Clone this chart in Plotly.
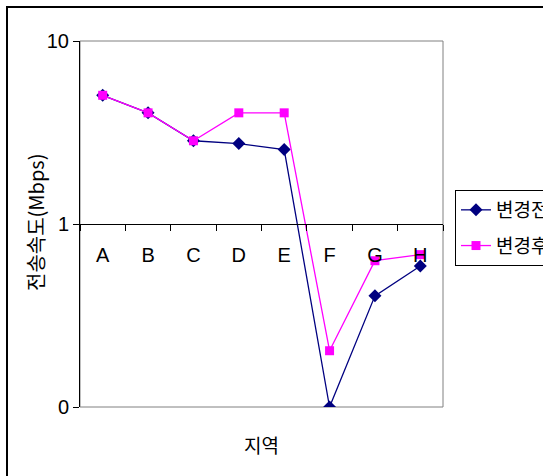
import plotly.graph_objects as go

categories = ["A", "B", "C", "D", "E", "F", "G", "H"]
before = [5.05, 4.05, 2.85, 2.75, 2.55, 0.1, 0.405, 0.59]
after = [5.05, 4.05, 2.85, 4.05, 4.05, 0.203, 0.63, 0.68]
y_tickvals = [0.1, 1, 10]
y_ticktext = ["0", "1", "10"]

FONT = "Liberation Sans, Arial, Noto Sans CJK KR, sans-serif"
KFONT = "Noto Sans CJK KR, Liberation Sans, sans-serif"

fig = go.Figure()
fig.add_trace(go.Scatter(
    x=categories, y=before, name="변경전", mode="lines+markers",
    line=dict(color="#000080", width=1.3),
    marker=dict(symbol="diamond", size=10, color="#000080"),
    legendgroup="a",
))
fig.add_trace(go.Scatter(
    x=categories, y=after, name="변경후", mode="lines+markers",
    line=dict(color="#FF00FF", width=1.3),
    marker=dict(symbol="square", size=9, color="#FF00FF"),
    legendgroup="b",
))

W, H = 543, 476
L, R, T, B = 80, 100, 41, 69
pw, ph = W - L - R, H - T - B

fig.update_layout(
    width=W, height=H,
    margin=dict(l=L, r=R, t=T, b=B, autoexpand=False),
    paper_bgcolor="white", plot_bgcolor="white",
    font=dict(family=FONT, size=20, color="black"),
    showlegend=True,
    legend=dict(
        x=(455 - L) / pw, y=(H - B - 190) / ph, xanchor="left", yanchor="top",
        bordercolor="black", borderwidth=1, bgcolor="white",
        font=dict(family=KFONT, size=19, color="black"),
        tracegroupgap=8, traceorder="grouped",
    ),
    xaxis=dict(
        type="category", anchor="free", position=0.5,
        showline=True, linecolor="black", linewidth=1,
        ticks="outside", tickson="boundaries", ticklen=6, tickcolor="black",
        showgrid=False, zeroline=False, ticklabelstandoff=13,
        tickfont=dict(family=FONT, size=20),
        range=[-0.5, 7.5], automargin=False,
    ),
    yaxis=dict(
        type="log", range=[-1, 1],
        tickvals=y_tickvals, ticktext=y_ticktext,
        showline=True, linecolor="black", linewidth=1,
        ticks="outside", ticklen=6, tickcolor="black",
        showgrid=False, zeroline=False, automargin=False,
        tickfont=dict(family=FONT, size=20),
    ),
    shapes=[
        dict(type="rect", xref="paper", yref="paper", x0=0, x1=1, y0=0, y1=1,
             line=dict(color="#808080", width=1), layer="below"),
        dict(type="rect", xref="paper", yref="paper",
             x0=(7 - L) / pw, x1=2.0, y0=-1.0, y1=(H - B - 7) / ph,
             line=dict(color="black", width=2), layer="below"),
    ],
    annotations=[
        dict(text="지역", xref="paper", yref="paper", x=0.5, y=-(445 - (H - B)) / ph,
             showarrow=False, xanchor="center", yanchor="middle",
             font=dict(family=KFONT, size=19)),
        dict(text="전송속도(Mbps)", xref="paper", yref="paper",
             x=(35 - L) / pw, y=(H - B - 223) / ph, textangle=-90,
             showarrow=False, xanchor="center", yanchor="middle",
             font=dict(family=KFONT, size=20)),
    ],
)

fig.write_html(
    "out.html",
    config={"displayModeBar": False},
    post_script="document.body.style.margin='0';document.body.style.padding='0';document.body.style.overflow='hidden';",
)
